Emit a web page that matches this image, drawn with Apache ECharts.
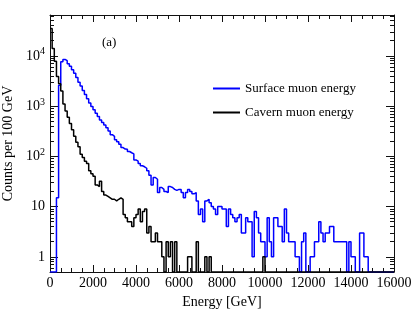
<!DOCTYPE html>
<html>
<head>
<meta charset="utf-8">
<script src="https://cdn.jsdelivr.net/npm/echarts@6/dist/echarts.min.js"></script>
<style>html,body{margin:0;padding:0;background:#fff}#c{width:415px;height:311px}</style>
</head>
<body>
<div id="c"></div>
<script>
// Bin low edges (GeV), 100 GeV bins from 0 to 16000
const binWidth = 100;
const binLowEdges = Array.from({length: 160}, (_, i) => i * binWidth);

// Surface muon energy, counts per 100 GeV bin
const surfaceCounts = [
  0,0,0,15,2600,7600,8500,8000,7000,6200,
  5300,4500,3700,3000,2500,2050,1700,1400,1150,980,
  850,720,620,530,470,420,370,320,270,250,
  215,195,175,150,140,138,125,118,112,85,
  80,72,65,62,58,52,42,27,38,35,
  19,24,22,20,19,25,24,22,21,22,
  22,19,15,19,22,20,18,19,13,7,
  9,5,13,14,12,10,9,7,10,10,
  9,9,4,9,7,6,5,6,7,3,
  3,6,5,5,1,8,6,3,2,2,
  1,6,2,1,6,6,4,4,2,9,
  3,2,2,2,1,1,0,2,3,0,
  0,1,1,2,2,5,3,2,3,3,
  4,4,2,2,2,2,2,2,0,2,
  1,1,0,0,3,3,1,1,0,0,
  0,0,0,0,0,0,0,0,0,0
];

// Cavern muon energy, counts per 100 GeV bin
const cavernCounts = [
  35000,14000,7800,3900,2800,2000,1100,800,600,450,
  340,250,190,155,110,95,80,72,52,45,
  40,27,25,32,20,17,16,15,14,14,
  13,14,15,14,7,6,5,5,4,6,
  7,9,5,8,9,3,4,2,2,3,
  2,2,1,0,2,1,2,0,2,0,
  0,0,0,0,1,1,0,0,2,0,
  0,0,1,0,1,0,0,0,0,0,
  0,0,0,0,0,0,0,0,0,0,
  0,0,0,0,0,0,0,0,0,1,
  0,0,0,0,0,0,0,0,0,0,
  0,0,0,0,0,0,0,0,0,0,
  0,0,0,0,0,0,0,0,0,0,
  0,0,0,0,0,0,0,0,0,0,
  0,0,0,0,0,0,0,0,0,0,
  0,0,0,0,0,0,0,0,0,0
];

const seriesNames = ['Surface muon energy', 'Cavern muon energy'];
const xTicks = [0, 2000, 4000, 6000, 8000, 10000, 12000, 14000, 16000];
const yMajorTicks = [1, 10, 100, 1000, 10000];

const X_MIN = 0, X_MAX = 16000, Y_MIN = 0.5, Y_MAX = 65000;
const FONT = 'Liberation Serif';

const yMinorTicks = [];
[0.1, 1, 10, 100, 1000, 10000].forEach(d => {
  for (let k = 2; k <= 9; k++) {
    const v = d * k;
    if (v >= Y_MIN && v <= Y_MAX) yMinorTicks.push(v);
  }
});

function histData(counts) {
  const pts = binLowEdges.map((x, i) => [x, counts[i] > 0 ? counts[i] : Y_MIN]);
  pts.push([X_MAX, counts[counts.length - 1] > 0 ? counts[counts.length - 1] : Y_MIN]);
  return pts;
}

function yLabel(v) {
  const e = Math.round(Math.log10(v));
  if (e === 0) return '1';
  if (e === 1) return '10';
  return '10{sup|' + e + '}';
}

const axisLineStyle = {color: '#111', width: 1};

function yAxisBase(pos, withLabels, ticks, len) {
  return {
    type: 'log', position: pos, min: Y_MIN, max: Y_MAX, logBase: 10,
    axisLine: {show: withLabels, lineStyle: axisLineStyle},
    axisTick: {show: true, inside: true, length: len, customValues: ticks, lineStyle: {color: '#111', width: 1}},
    axisLabel: withLabels && pos === 'left' ? {
      show: true, customValues: yMajorTicks, margin: 5, formatter: yLabel,
      color: '#000', fontFamily: FONT, fontSize: 14,
      rich: {sup: {fontSize: 10, fontFamily: FONT, color: '#000', verticalAlign: 'top', padding: [0, 0, 8, 0]}}
    } : {show: false},
    splitLine: {show: false},
    minorTick: {show: false}
  };
}

const chart = echarts.init(document.getElementById('c'), null, {renderer: 'canvas'});
chart.setOption({
  animation: false,
  backgroundColor: '#fff',
  grid: {left: 50, right: 21, top: 15, bottom: 39, containLabel: false, outerBoundsMode: 'none'},
  title: {
    text: '(a)', left: 97, top: 31,
    textStyle: {fontFamily: FONT, fontSize: 13, fontWeight: 'normal', color: '#000'}
  },
  legend: {
    orient: 'vertical', left: 208, top: 77, itemWidth: 27, itemHeight: 2, itemGap: 11,
    icon: 'rect',
    textStyle: {fontFamily: FONT, fontSize: 13, color: '#000'},
    data: seriesNames
  },
  xAxis: [
    {
      type: 'value', position: 'bottom', min: X_MIN, max: X_MAX, interval: 2000,
      name: 'Energy [GeV]', nameLocation: 'middle', nameGap: 18,
      nameTextStyle: {fontFamily: FONT, fontSize: 14, color: '#000'},
      axisLine: {show: true, onZero: false, lineStyle: axisLineStyle},
      axisTick: {show: true, inside: true, length: 7, lineStyle: {color: '#111'}},
      minorTick: {show: true, splitNumber: 4, length: 4, lineStyle: {color: '#111'}},
      axisLabel: {show: true, margin: 4, color: '#000', fontFamily: FONT, fontSize: 14,
        customValues: xTicks, formatter: v => String(v)},
      splitLine: {show: false}
    },
    {
      type: 'value', position: 'top', min: X_MIN, max: X_MAX, interval: 2000,
      axisLine: {show: true, onZero: false, lineStyle: axisLineStyle},
      axisTick: {show: true, inside: true, length: 7, lineStyle: {color: '#111'}},
      minorTick: {show: true, splitNumber: 4, length: 4, lineStyle: {color: '#111'}},
      axisLabel: {show: false},
      splitLine: {show: false}
    }
  ],
  yAxis: [
    Object.assign(yAxisBase('left', true, yMajorTicks, 8), {
      name: 'Counts per 100 GeV', nameLocation: 'middle', nameGap: 31,
      nameTextStyle: {fontFamily: FONT, fontSize: 14, color: '#000'}
    }),
    yAxisBase('left', false, yMinorTicks, 4),
    yAxisBase('right', true, yMajorTicks, 8),
    yAxisBase('right', false, yMinorTicks, 4)
  ],
  series: [
    {
      name: seriesNames[0], type: 'line', step: 'end', xAxisIndex: 0, yAxisIndex: 0,
      data: histData(surfaceCounts), symbol: 'none', showSymbol: false,
      lineStyle: {color: '#0000ff', width: 1.5}, itemStyle: {color: '#0000ff'}, z: 3
    },
    {
      name: seriesNames[1], type: 'line', step: 'end', xAxisIndex: 0, yAxisIndex: 0,
      data: histData(cavernCounts), symbol: 'none', showSymbol: false,
      lineStyle: {color: '#000000', width: 1.5}, itemStyle: {color: '#000000'}, z: 4
    }
  ]
});
</script>
</body>
</html>
